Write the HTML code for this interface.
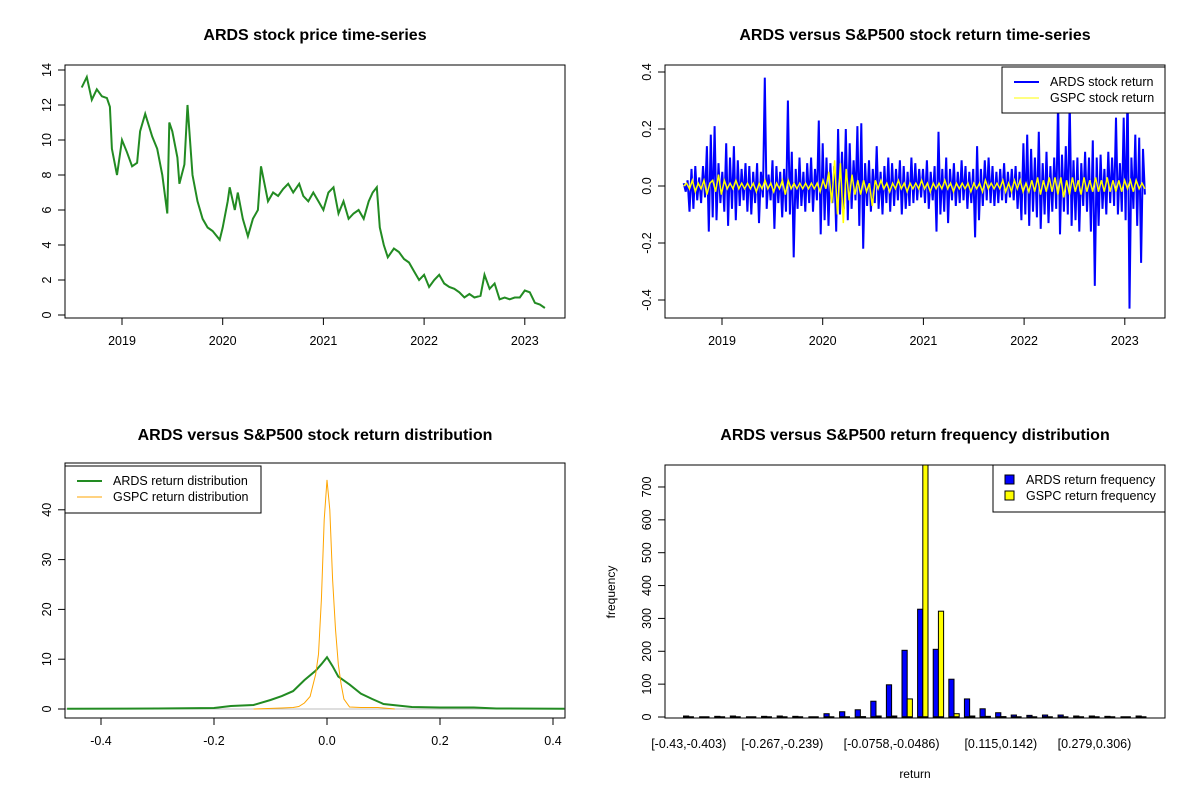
<!DOCTYPE html>
<html><head><meta charset="utf-8"><style>
html,body{margin:0;padding:0;background:#fff;}
svg{display:block;font-family:"Liberation Sans",Arial,sans-serif;}
</style></head><body>
<svg id="c" width="1200" height="800" viewBox="0 0 1200 800">
<rect width="1200" height="800" fill="#fff"/>
<g id="g"></g>
</svg>
<script>
// ---- Panel 1: price ----
const priceYears=[2018.6,2018.65,2018.7,2018.75,2018.8,2018.85,2018.88,2018.9,2018.95,2019.0,2019.05,2019.1,2019.15,2019.18,2019.23,2019.3,2019.35,2019.4,2019.45,2019.47,2019.5,2019.55,2019.57,2019.62,2019.65,2019.7,2019.75,2019.8,2019.85,2019.9,2019.97,2020.0,2020.05,2020.07,2020.12,2020.15,2020.2,2020.25,2020.3,2020.35,2020.38,2020.45,2020.5,2020.55,2020.6,2020.65,2020.7,2020.76,2020.8,2020.85,2020.9,2020.95,2021.0,2021.05,2021.1,2021.15,2021.2,2021.25,2021.3,2021.35,2021.4,2021.45,2021.49,2021.53,2021.56,2021.6,2021.64,2021.7,2021.75,2021.8,2021.85,2021.9,2021.95,2022.0,2022.05,2022.1,2022.15,2022.2,2022.25,2022.3,2022.35,2022.4,2022.45,2022.5,2022.56,2022.6,2022.65,2022.7,2022.75,2022.8,2022.85,2022.9,2022.95,2023.0,2023.05,2023.1,2023.15,2023.2];
const priceVals=[13.0,13.6,12.3,12.9,12.5,12.4,11.9,9.5,8.0,10.0,9.3,8.5,8.7,10.5,11.5,10.2,9.5,8.0,5.8,11.0,10.5,9.0,7.5,8.6,12.0,8.0,6.5,5.5,5.0,4.8,4.3,5.0,6.5,7.3,6.0,7.0,5.5,4.5,5.5,6.0,8.5,6.5,7.0,6.8,7.2,7.5,7.0,7.5,6.8,6.5,7.0,6.5,6.0,7.0,7.3,5.8,6.5,5.5,5.8,6.0,5.5,6.5,7.0,7.3,5.0,4.0,3.3,3.8,3.6,3.2,3.0,2.5,2.0,2.3,1.6,2.0,2.3,1.8,1.6,1.5,1.3,1.0,1.2,1.0,1.1,2.3,1.5,1.8,0.9,1.0,0.9,1.0,1.0,1.4,1.3,0.7,0.6,0.4];
const yearTicks=[2019,2020,2021,2022,2023];
const priceTicks=[0,2,4,6,8,10,12,14];
// ---- Panel 2: returns ----
const retStart=2018.62, retEnd=2023.2;
const ardsRet=[0.01,-0.02,0.02,-0.09,0.06,-0.08,0.07,-0.05,0.03,-0.06,
0.07,-0.04,0.14,-0.16,0.18,-0.11,0.21,-0.12,0.08,-0.06,
0.05,-0.09,0.15,-0.14,0.10,-0.08,0.14,-0.12,0.09,-0.07,
0.06,-0.05,0.08,-0.09,0.07,-0.10,0.05,-0.06,0.08,-0.13,
0.05,-0.04,0.38,-0.08,0.04,-0.05,0.09,-0.15,0.07,-0.06,
0.05,-0.11,0.06,-0.09,0.30,-0.10,0.12,-0.25,0.06,-0.08,
0.10,-0.07,0.05,-0.09,0.08,-0.06,0.10,-0.09,0.06,-0.05,
0.23,-0.17,0.15,-0.12,0.10,-0.14,0.08,-0.06,0.07,-0.16,
0.20,-0.10,0.12,-0.08,0.20,-0.12,0.15,-0.08,0.09,-0.05,
0.21,-0.14,0.22,-0.22,0.08,-0.07,0.09,-0.09,0.06,-0.06,
0.14,-0.08,0.05,-0.10,0.07,-0.06,0.10,-0.09,0.08,-0.07,
0.06,-0.05,0.09,-0.10,0.07,-0.08,0.05,-0.07,0.10,-0.06,
0.08,-0.05,0.06,-0.04,0.06,-0.06,0.09,-0.08,0.05,-0.05,
0.07,-0.16,0.19,-0.10,0.06,-0.09,0.10,-0.13,0.06,-0.05,
0.08,-0.07,0.05,-0.06,0.09,-0.05,0.07,-0.08,0.05,-0.06,
0.06,-0.18,0.14,-0.12,0.06,-0.07,0.09,-0.05,0.10,-0.06,
0.07,-0.07,0.05,-0.06,0.06,-0.05,0.08,-0.06,0.05,-0.04,
0.06,-0.05,0.07,-0.08,0.05,-0.12,0.15,-0.10,0.18,-0.14,
0.13,-0.09,0.10,-0.11,0.19,-0.15,0.08,-0.10,0.12,-0.13,
0.07,-0.09,0.10,-0.08,0.30,-0.17,0.11,-0.09,0.14,-0.10,
0.30,-0.14,0.09,-0.12,0.10,-0.16,0.08,-0.07,0.12,-0.09,
0.10,-0.16,0.16,-0.35,0.10,-0.14,0.11,-0.08,0.06,-0.10,
0.12,-0.06,0.10,-0.07,0.24,-0.10,0.08,-0.09,0.24,-0.12,
0.35,-0.43,0.10,-0.08,0.18,-0.14,0.17,-0.27,0.13,-0.03];
const gspcRet=[0.00,0.01,-0.01,0.02,-0.02,0.01,-0.01,0.02,-0.03,0.01,
0.02,-0.02,0.04,-0.03,0.02,-0.01,0.01,-0.01,0.02,-0.01,
0.01,-0.01,0.01,-0.01,0.01,-0.02,0.01,-0.01,0.02,-0.01,
0.01,-0.02,0.01,-0.01,0.02,-0.03,0.02,-0.01,0.01,-0.01,
0.01,-0.01,0.01,-0.01,0.01,-0.01,0.01,-0.02,0.02,-0.01,
0.05,-0.06,0.09,-0.10,0.08,-0.13,0.06,-0.05,0.04,-0.03,
0.02,-0.03,0.02,-0.02,0.01,-0.07,0.02,-0.01,0.02,-0.01,
0.01,-0.02,0.01,-0.01,0.02,-0.01,0.01,-0.02,0.01,-0.01,
0.01,-0.01,0.02,-0.01,0.01,-0.02,0.01,-0.01,0.01,-0.01,
0.02,-0.01,0.01,-0.02,0.01,-0.01,0.01,-0.01,0.01,-0.02,
0.01,-0.01,0.01,-0.02,0.02,-0.01,0.01,-0.01,0.01,-0.01,
0.02,-0.02,0.01,-0.02,0.02,-0.01,0.02,-0.02,0.01,-0.02,
0.02,-0.02,0.03,-0.03,0.02,-0.02,0.03,-0.02,0.03,-0.03,
0.03,-0.04,0.02,-0.03,0.03,-0.02,0.02,-0.03,0.03,-0.02,
0.02,-0.02,0.03,-0.02,0.02,-0.02,0.03,-0.02,0.02,-0.02,
0.02,-0.02,0.02,-0.01,0.02,-0.02,0.02,-0.01,0.01,-0.01];
const retTicks=[-0.4,-0.2,0.0,0.2,0.4];
// ---- Panel 3: densities ----
const ardsDensX=[-0.46,-0.3,-0.2,-0.17,-0.13,-0.1,-0.08,-0.06,-0.04,-0.02,-0.01,0,0.01,0.02,0.04,0.06,0.08,0.1,0.15,0.2,0.26,0.3,0.42];
const ardsDensY=[0.05,0.1,0.2,0.6,0.8,1.8,2.6,3.6,5.8,7.7,9.0,10.4,8.6,6.5,4.9,3.1,2.0,1.0,0.4,0.3,0.3,0.1,0.05];
const gspcDensX=[-0.13,-0.08,-0.06,-0.05,-0.04,-0.03,-0.02,-0.015,-0.01,-0.005,0,0.005,0.01,0.015,0.02,0.025,0.03,0.04,0.06,0.09,0.12];
const gspcDensY=[0,0.2,0.3,0.5,1.2,2.5,7.0,11,22,38,46,40,26,16,9,5,2.0,0.4,0.3,0.3,0];
const densXTicks=[-0.4,-0.2,0.0,0.2,0.4];
const densYTicks=[0,10,20,30,40];
// ---- Panel 4: histogram ----
const binLabels=["[-0.43,-0.403)","","","","","","[-0.267,-0.239)","","","","","","","[-0.0758,-0.0486)","","","","","","","[0.115,0.142)","","","","","","[0.279,0.306)","","",""];
const ardsFreq=[3,0,2,3,0,2,3,2,0,10,16,22,48,98,203,328,206,115,55,25,13,6,5,6,6,3,3,2,0,3];
const gspcFreq=[0,0,0,0,0,0,0,0,0,0,0,1,3,3,55,800,322,10,3,2,1,0,0,0,0,0,0,0,0,0];
const freqTicks=[0,100,200,300,400,500,600,700];

const NS="http://www.w3.org/2000/svg";
const G=document.getElementById('g');
function mk(tag,attrs,parent,text){const e=document.createElementNS(NS,tag);for(const k in attrs)e.setAttribute(k,attrs[k]);if(text!==undefined)e.textContent=text;(parent||G).appendChild(e);return e;}
function title(x,y,t,name){const e=mk('text',{x:x,y:y,'text-anchor':'middle','font-size':16,'font-weight':'bold',fill:'#000'},G,t);

}
function box(x0,y0,x1,y1,name){const e=mk('rect',{x:x0,y:y0,width:x1-x0,height:y1-y0,fill:'none',stroke:'#000','stroke-width':1});

}
function xAxis(ticks,sx,yb,labelFn,name){const g=mk('g',{});


const xs=ticks.map(sx);mk('line',{x1:xs[0],x2:xs[xs.length-1],y1:yb,y2:yb,stroke:'#000'},g);
ticks.forEach((t,i)=>{mk('line',{x1:xs[i],x2:xs[i],y1:yb,y2:yb+7,stroke:'#000'},g);mk('text',{x:xs[i],y:yb+27,'text-anchor':'middle','font-size':12.5},g,labelFn(t));});}
function yAxis(ticks,sy,xl,labelFn,name){const g=mk('g',{});


const ys=ticks.map(sy);mk('line',{x1:xl,x2:xl,y1:ys[0],y2:ys[ys.length-1],stroke:'#000'},g);
ticks.forEach((t,i)=>{mk('line',{x1:xl,x2:xl-7,y1:ys[i],y2:ys[i],stroke:'#000'},g);mk('text',{x:xl-14,y:ys[i],'text-anchor':'middle','font-size':12.5,transform:`rotate(-90 ${xl-14} ${ys[i]})`},g,labelFn(t));});}
function poly(xs,ys,color,w,name,clip){const pts=xs.map((x,i)=>x.toFixed(1)+','+ys[i].toFixed(1)).join(' ');const e=mk('polyline',{points:pts,fill:'none',stroke:color,'stroke-width':w,'stroke-linejoin':'miter'});if(clip)e.setAttribute('clip-path',clip);

return e;}
const defs=mk('defs',{});
const cp=mk('clipPath',{id:'cp4'},defs);mk('rect',{x:665,y:465,width:500,height:253},cp);
const cp3=mk('clipPath',{id:'cp3'},defs);mk('rect',{x:65,y:463,width:500,height:255},cp3);
function legend(x0,y0,w,h,entries,name){const g=mk('g',{});


mk('rect',{x:x0,y:y0,width:w,height:h,fill:'#fff',stroke:'#000'},g);
entries.forEach((en,i)=>{const yy=y0+15+i*16;const ge=mk('g',{},g);


if(en.sw==='box')mk('rect',{x:x0+12,y:yy-5,width:9,height:9,fill:en.c,stroke:'#000'},ge);
else mk('line',{x1:x0+12,x2:x0+37,y1:yy,y2:yy,stroke:en.c,'stroke-width':en.sw},ge);
mk('text',{x:x0+(en.sw==='box'?33:48),y:yy+4,'font-size':12.5},ge,en.t);});}

// Panel 1
const sx1=y=>122+(y-2019)*100.7, sy1=v=>315-v*17.5;
title(315,40,'ARDS stock price time-series','price-title');
poly(priceYears.map(sx1),priceVals.map(sy1),'#228B22',2,'price-line');
box(65,65,565,318,'price-plot-area');
xAxis(yearTicks,sx1,318,t=>String(t),'price-x-axis');
yAxis(priceTicks,sy1,65,t=>String(t),'price-y-axis');

// Panel 2
const sx2=y=>722+(y-2019)*100.7, sy2=v=>186-v*285;
title(915,40,'ARDS versus S&P500 stock return time-series','return-title');
const aY=ardsRet.map((v,i)=>retStart+i*(retEnd-retStart)/(ardsRet.length-1));
const gY=gspcRet.map((v,i)=>retStart+i*(retEnd-retStart)/(gspcRet.length-1));
poly(aY.map(sx2),ardsRet.map(sy2),'#0000FF',2,'ards-return-line');
poly(gY.map(sx2),gspcRet.map(sy2),'#FFFF00',1.5,'gspc-return-line');
box(665,65,1165,318,'return-plot-area');
xAxis(yearTicks,sx2,318,t=>String(t),'return-x-axis');
yAxis(retTicks,sy2,665,t=>t.toFixed(1),'return-y-axis');
legend(1002,67,163,46,[{c:'#0000FF',sw:2,t:'ARDS stock return'},{c:'#FFFF00',sw:1,t:'GSPC stock return'}],'return-legend');

// Panel 3
const sx3=v=>327+v*565, sy3=v=>709-v*4.98;
title(315,440,'ARDS versus S&P500 stock return distribution','density-title');
mk('line',{x1:65,x2:565,y1:709,y2:709,stroke:'#bebebe'});
poly(ardsDensX.map(sx3),ardsDensY.map(sy3),'#228B22',2,'ards-density-line','url(#cp3)');
poly(gspcDensX.map(sx3),gspcDensY.map(sy3),'#FFA500',1,'gspc-density-line','url(#cp3)');
box(65,463,565,718,'density-plot-area');
xAxis(densXTicks,sx3,718,t=>t.toFixed(1),'density-x-axis');
yAxis(densYTicks,sy3,65,t=>String(t),'density-y-axis');
legend(65,466,196,47,[{c:'#228B22',sw:2,t:'ARDS return distribution'},{c:'#FFA500',sw:1,t:'GSPC return distribution'}],'density-legend');

// Panel 4
const u=500/96.12, sx4=x=>665+(x+2.56)*u, sy4=v=>717-v*0.3286;
title(915,440,'ARDS versus S&P500 return frequency distribution','histogram-title');
ardsFreq.forEach((v,i)=>{const x=1+3*i;const r=mk('rect',{x:sx4(x),y:sy4(v),width:u,height:717-sy4(v),fill:'#0000FF',stroke:'#000','stroke-width':1,'clip-path':'url(#cp4)'});


const v2=gspcFreq[i];const r2=mk('rect',{x:sx4(x+1),y:sy4(v2),width:u,height:717-sy4(v2),fill:'#FFFF00',stroke:'#000','stroke-width':1,'clip-path':'url(#cp4)'});


mk('line',{x1:sx4(x),x2:sx4(x+2),y1:717,y2:717,stroke:'#000','stroke-width':1.5});
if(binLabels[i]){const t=mk('text',{x:sx4(x+1),y:748,'text-anchor':'middle','font-size':12.5},G,binLabels[i]);

}});
box(665,465,1165,718,'histogram-plot-area');
yAxis(freqTicks,sy4,665,t=>String(t),'histogram-y-axis');
const xt=mk('text',{x:915,y:778,'text-anchor':'middle','font-size':12},G,'return');


const yt=mk('text',{x:615,y:592,'text-anchor':'middle','font-size':12,transform:'rotate(-90 615 592)'},G,'frequency');


legend(993,465,172,47,[{c:'#0000FF',sw:'box',t:'ARDS return frequency'},{c:'#FFFF00',sw:'box',t:'GSPC return frequency'}],'histogram-legend');
</script>
</body></html>
